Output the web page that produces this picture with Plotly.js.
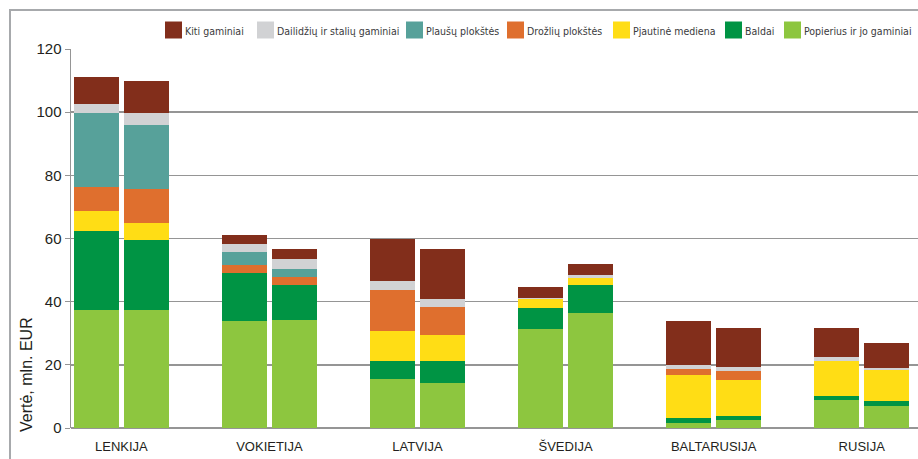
<!DOCTYPE html>
<html>
<head>
<meta charset="utf-8">
<script src="https://cdn.plot.ly/plotly-3.0.1.min.js"></script>
<style>html,body{margin:0;padding:0;background:#fff;}#chart{width:918px;height:459px;}</style>
</head>
<body>
<div id="chart"></div>
<script>
// Categories (countries), two bars (two periods) per country
const countries = ["LENKIJA", "VOKIETIJA", "LATVIJA", "ŠVEDIJA", "BALTARUSIJA", "RUSIJA"];

// Series values: flattened as country1-period1, country1-period2, country2-period1, ...
const popierius = [37.5, 37.5, 34.0, 34.3, 15.6, 14.3, 31.5, 36.5, 1.7, 2.6, 9.0, 7.1];
const baldai    = [25.0, 22.1, 15.0, 11.1, 5.7, 7.0, 6.6, 8.9, 1.6, 1.3, 1.0, 1.6];
const pjautine  = [6.3, 5.4, 0, 0, 9.5, 8.0, 2.6, 2.2, 13.6, 11.4, 11.3, 9.8];
const drozliu   = [7.5, 10.8, 2.5, 2.3, 13.0, 9.1, 0, 0, 1.9, 2.8, 0, 0];
const plausu    = [23.4, 20.2, 4.3, 2.7, 0, 0, 0, 0, 0, 0, 0, 0];
const dailidziu = [2.9, 3.7, 2.6, 3.2, 2.9, 2.6, 0.6, 1.0, 1.3, 1.3, 1.3, 0.6];
const kiti      = [8.6, 10.3, 2.8, 3.2, 13.3, 15.8, 3.4, 3.4, 13.9, 12.4, 9.2, 7.9];

const seriesNames = ["Popierius ir jo gaminiai", "Baldai", "Pjautinė mediena", "Drožlių plokštės",
                     "Plaušų plokštės", "Dailidžių ir stalių gaminiai", "Kiti gaminiai"];
const seriesValues = [popierius, baldai, pjautine, drozliu, plausu, dailidziu, kiti];
const seriesColors = ["#8dc63f", "#009444", "#ffdd15", "#df6f2e", "#57a19a", "#d1d2d4", "#822e1b"];

const yTicks = [0, 20, 40, 60, 80, 100, 120];
const yTitle = "Vertė, mln. EUR";

// ---- layout geometry (pixels) ----
const W = 918, H = 459;
const M = { l: 71, r: 0, t: 49, b: 31 };
const plotW = W - M.l - M.r, plotH = H - M.t - M.b;
const px = x => (x - M.l) / plotW;          // pixel x -> paper x
const py = y => (H - M.b - y) / plotH;      // pixel y -> paper y

// legend entries, left to right (reverse of stacking order)
const legendSwatchX = [165, 257, 406, 507, 613, 725, 784];
const legendY = 30, sw = 17;

// bar positions derived from category index and period
const offset = 0.169, barW = 0.304;
const xPos = [];
countries.forEach((c, i) => { xPos.push(i - offset); xPos.push(i + offset); });

const traces = seriesNames.map((name, k) => ({
  type: "bar",
  name: name,
  x: xPos,
  y: seriesValues[k],
  width: barW,
  marker: { color: seriesColors[k], line: { width: 0 } },
  hoverinfo: "name+y",
  showlegend: false
}));

const shapes = [{
  type: "rect", xref: "paper", yref: "paper",
  x0: px(10), x1: px(930), y0: py(470), y1: py(10),
  line: { color: "#a7a9ac", width: 2 }, fillcolor: "rgba(0,0,0,0)", layer: "below"
}];
const annotations = [{
  xref: "paper", yref: "paper", x: px(26), y: py(375),
  text: yTitle, textangle: -90, showarrow: false,
  xanchor: "center", yanchor: "middle",
  font: { size: 16, color: "#231f20" }
}];

const legendOrder = seriesNames.map((n, k) => k).reverse();
legendOrder.forEach((k, j) => {
  const x0 = legendSwatchX[j];
  shapes.push({
    type: "rect", xref: "paper", yref: "paper",
    x0: px(x0), x1: px(x0 + sw), y0: py(legendY + sw / 2), y1: py(legendY - sw / 2),
    line: { width: 0 }, fillcolor: seriesColors[k]
  });
  annotations.push({
    xref: "paper", yref: "paper", x: px(x0 + sw + 1), y: py(legendY + 1),
    text: seriesNames[k], showarrow: false, xanchor: "left", yanchor: "middle",
    font: { family: "DejaVu Sans Condensed, Liberation Sans Narrow, sans-serif", size: 10.5, color: "#3a3a3c" }
  });
});

const layout = {
  width: W, height: H,
  margin: M,
  paper_bgcolor: "#fff", plot_bgcolor: "#fff",
  barmode: "stack",
  font: { family: "Liberation Sans, Arial, sans-serif", color: "#231f20" },
  showlegend: false,
  xaxis: {
    range: [-0.34, 5.38],
    tickvals: countries.map((c, i) => i),
    ticktext: countries,
    showgrid: false, zeroline: false, showline: false,
    ticks: "", tickfont: { size: 13, color: "#231f20" },
    ticklabelstandoff: 9,
    fixedrange: true
  },
  yaxis: {
    range: [0, 120],
    tickvals: yTicks,
    showgrid: true, gridcolor: "#959595", gridwidth: 1.6,
    zeroline: true, zerolinecolor: "#959595", zerolinewidth: 1.6,
    showline: true, linecolor: "#959595", linewidth: 1.5,
    ticks: "outside", ticklen: 5, tickcolor: "#959595",
    tickfont: { size: 15, color: "#231f20" },
    fixedrange: true
  },
  shapes: shapes,
  annotations: annotations
};

Plotly.newPlot("chart", traces, layout, { displayModeBar: false, staticPlot: true });
</script>
</body>
</html>
